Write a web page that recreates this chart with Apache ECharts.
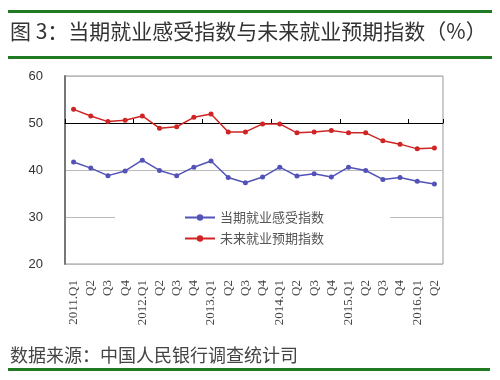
<!DOCTYPE html>
<html>
<head>
<meta charset="utf-8">
<script src="https://cdn.jsdelivr.net/npm/echarts@6/dist/echarts.min.js"></script>
<style>html,body{margin:0;padding:0;background:#fff;}#c{width:500px;height:380px;}</style>
</head>
<body>
<div id="c"></div>
<script>
var categories = ['2011.Q1','Q2','Q3','Q4','2012.Q1','Q2','Q3','Q4','2013.Q1','Q2','Q3','Q4','2014.Q1','Q2','Q3','Q4','2015.Q1','Q2','Q3','Q4','2016.Q1','Q2'];
var currentIndex = [41.7,40.4,38.8,39.8,42.1,39.9,38.8,40.6,41.9,38.4,37.3,38.5,40.6,38.7,39.2,38.5,40.6,39.9,38.0,38.4,37.6,37.0];
var futureIndex = [52.9,51.5,50.3,50.6,51.5,48.9,49.2,51.2,51.9,48.1,48.1,49.8,49.8,47.9,48.1,48.4,47.9,47.9,46.2,45.5,44.5,44.7];
var seriesNames = ['当期就业感受指数','未来就业预期指数'];
var yTicks = {min:20, max:60, interval:10};

var chart = echarts.init(document.getElementById('c'));
var green = '#1f7a22';
chart.setOption({
  animation:false,
  backgroundColor:'#fff',
  graphic:[
    {type:'rect', shape:{x:8,y:10,width:484,height:3}, style:{fill:green}},
    {type:'text', left:10, top:21, style:{text:'图 3：当期就业感受指数与未来就业预期指数（%）', font:'21px "Noto Sans CJK SC"', fill:'#333'}},
    {type:'rect', shape:{x:8,y:56,width:484,height:3}, style:{fill:green}},
    {type:'text', left:10, top:346, style:{text:'数据来源：中国人民银行调查统计司', font:'18px "Noto Sans CJK SC"', fill:'#444'}},
    {type:'rect', shape:{x:8,y:368,width:482,height:3}, style:{fill:green}}
  ],
  grid:{left:65, right:57, top:76, bottom:116, show:true, borderColor:'#999', borderWidth:1},
  legend:{
    orient:'vertical', left:115, top:206,
    padding:[5,66,5,69], backgroundColor:'#fff',
    itemWidth:30, itemHeight:8, itemGap:8,
    textStyle:{fontFamily:'Noto Sans CJK SC', fontSize:13, color:'#555'},
    data:seriesNames
  },
  xAxis:[
    {type:'category', data:categories, boundaryGap:true,
     axisLine:{show:false}, axisTick:{show:false},
     axisLabel:{rotate:90, margin:16, fontFamily:'Liberation Serif', fontSize:13, color:'#444', interval:0}},
    {type:'category', data:categories, boundaryGap:true, position:'bottom', offset:-141,
     axisLine:{show:true, lineStyle:{color:'#000', width:1}},
     axisTick:{show:true, inside:true, length:4, lineStyle:{color:'#000'}},
     axisLabel:{show:false}}
  ],
  yAxis:{type:'value', min:yTicks.min, max:yTicks.max, interval:yTicks.interval,
    axisLine:{show:true, lineStyle:{color:'#777', width:2}},
    axisTick:{show:false},
    splitLine:{show:true, lineStyle:{color:'#bbb', width:1}},
    axisLabel:{margin:22, fontFamily:'Liberation Sans', fontSize:13, color:'#333'}},
  series:[
    {name:seriesNames[0], type:'line', data:currentIndex, symbol:'circle', symbolSize:5,
     itemStyle:{color:'#5252b8'}, lineStyle:{color:'#5252b8', width:1.5}, z:3},
    {name:seriesNames[1], type:'line', data:futureIndex, symbol:'circle', symbolSize:5,
     itemStyle:{color:'#d02424'}, lineStyle:{color:'#d02424', width:1.5}, z:3}
  ]
});
</script>
</body>
</html>
